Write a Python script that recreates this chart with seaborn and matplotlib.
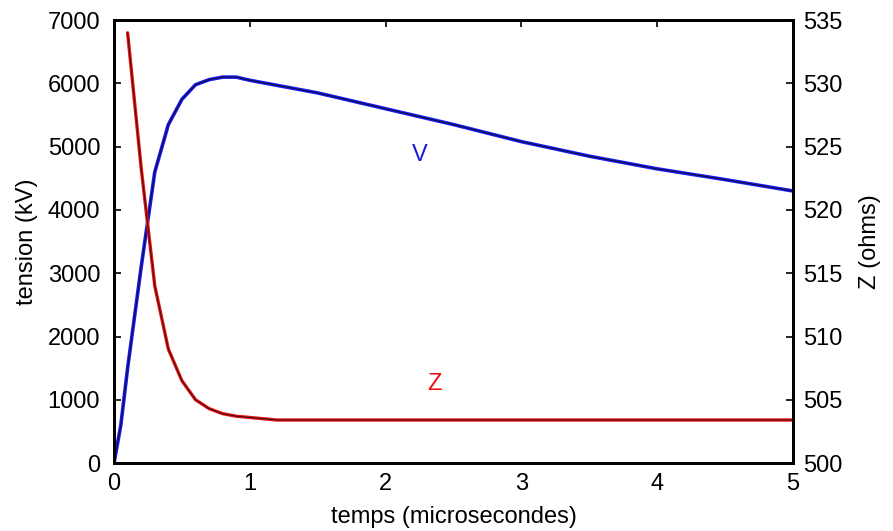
import matplotlib
matplotlib.use("Agg")
import matplotlib.pyplot as plt
import seaborn as sns
import pandas as pd

# Data
t_v = [0.0, 0.05, 0.1, 0.2, 0.3, 0.4, 0.5, 0.6, 0.7, 0.8, 0.9, 1.0, 1.2, 1.5, 2.0, 2.5, 3.0, 3.5, 4.0, 4.5, 5.0]
v_kv = [0, 600, 1500, 3100, 4600, 5350, 5750, 5980, 6060, 6100, 6100, 6050, 5970, 5850, 5600, 5350, 5080, 4850, 4650, 4480, 4300]

t_z = [0.1, 0.2, 0.3, 0.4, 0.5, 0.6, 0.7, 0.8, 0.9, 1.0, 1.2, 1.5, 2.0, 3.0, 4.0, 5.0]
z_ohm = [534.0, 523.3, 514.0, 509.0, 506.5, 505.0, 504.3, 503.9, 503.7, 503.6, 503.4, 503.4, 503.4, 503.4, 503.4, 503.4]

x_ticks = [0, 1, 2, 3, 4, 5]
yl_ticks = [0, 1000, 2000, 3000, 4000, 5000, 6000, 7000]
yr_ticks = [500, 505, 510, 515, 520, 525, 530, 535]

sns.set_style("white")
plt.rcParams['font.family'] = ['Liberation Sans', 'DejaVu Sans']
plt.rcParams['text.color'] = 'black'
plt.rcParams['axes.labelcolor'] = 'black'
plt.rcParams['xtick.color'] = 'black'
plt.rcParams['ytick.color'] = 'black'

dv = pd.DataFrame({"t": t_v, "V": v_kv})
dz = pd.DataFrame({"t": t_z, "Z": z_ohm})

fig = plt.figure(figsize=(8.93, 5.31), dpi=100)
ax = fig.add_axes([0.1277, 0.128, 0.7604, 0.834])
ax2 = ax.twinx()

sns.lineplot(data=dv, x="t", y="V", ax=ax, color="#1a1aff", lw=2.6)
sns.lineplot(data=dv, x="t", y="V", ax=ax, color="#101040", lw=0.9)
sns.lineplot(data=dz, x="t", y="Z", ax=ax2, color="#ee1010", lw=2.4)
sns.lineplot(data=dz, x="t", y="Z", ax=ax2, color="#401010", lw=0.8)

ax.set_xlim(0, 5)
ax.set_ylim(0, 7000)
ax2.set_ylim(500, 535)
ax.set_xticks(x_ticks)
ax.set_yticks(yl_ticks)
ax2.set_yticks(yr_ticks)

fs = 17
ax.set_xlabel("temps (microsecondes)", fontsize=fs, labelpad=8, color="black")
ax.set_ylabel("tension (kV)", fontsize=fs, labelpad=7, color="black")
ax2.set_ylabel("Z (ohms)", fontsize=fs, labelpad=12, color="black")
ax.tick_params(axis="x", labelsize=fs, direction="in", length=5, width=1.2, top=True, pad=7, colors="black")
ax.tick_params(axis="y", labelsize=fs, direction="in", length=5, width=1.2, pad=10, colors="black")
ax2.tick_params(axis="y", labelsize=fs, direction="in", length=5, width=1.2, pad=7, colors="black")

for a in (ax, ax2):
    for s in a.spines.values():
        s.set_color("black")
        s.set_linewidth(2)

ax.text(2.25, 4870, "V", color="#1a1adf", fontsize=fs, ha="center", va="center")
ax.text(2.36, 1250, "Z", color="#ee1010", fontsize=fs, ha="center", va="center")

fig.savefig("out.png", dpi=100)
